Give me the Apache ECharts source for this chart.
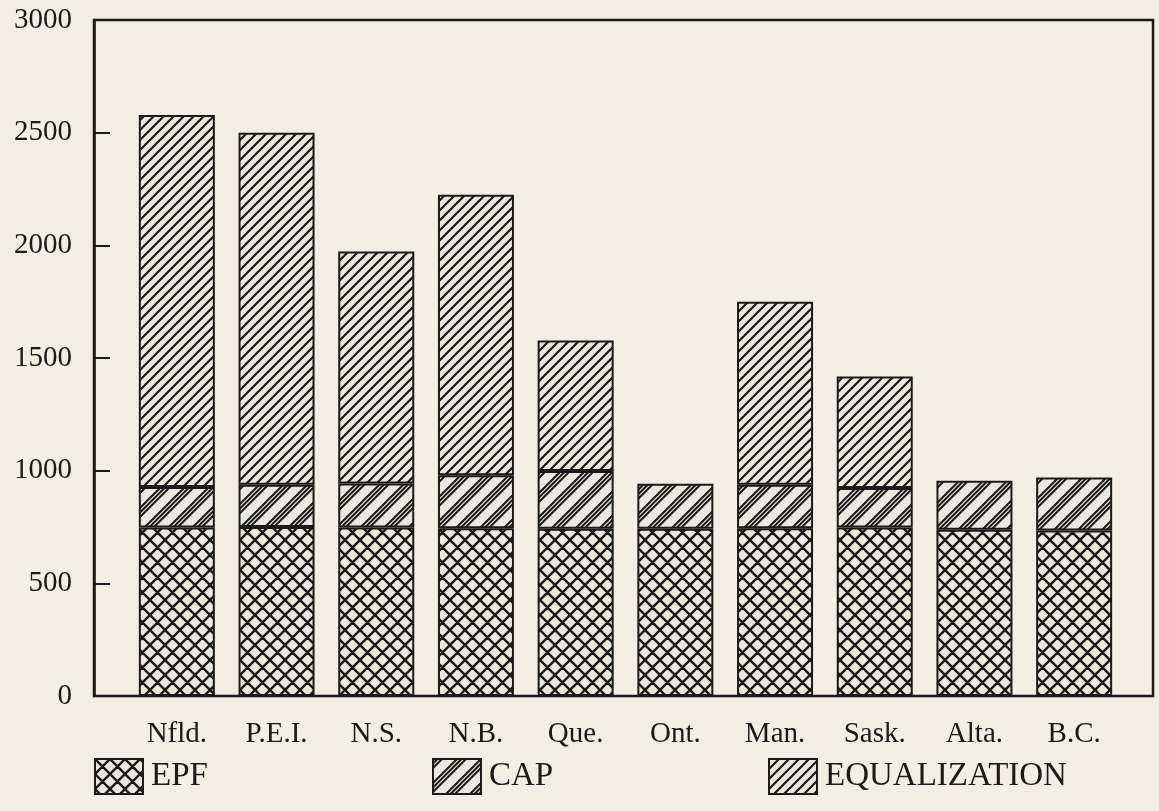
<!DOCTYPE html>
<html>
<head>
<meta charset="utf-8">
<script src="https://cdn.jsdelivr.net/npm/echarts@6/dist/echarts.min.js"></script>
<style>
  html, body { margin: 0; padding: 0; background: #f3eee4; }
  #chart { width: 1159px; height: 811px; }
</style>
</head>
<body>
<div id="chart"></div>
<script>
const provinces = ["Nfld.", "P.E.I.", "N.S.", "N.B.", "Que.", "Ont.", "Man.", "Sask.", "Alta.", "B.C."];
const epf = [748, 750, 748, 745, 742, 742, 745, 748, 738, 735];
const cap = [180, 187, 195, 235, 256, 200, 193, 175, 217, 235];
const equalization = [1650, 1563, 1030, 1245, 580, 0, 812, 495, 0, 0];
const yMin = 0;
const yMax = 3000;
const yStep = 500;

const ink = "#1a1a1a";
const paper = "#f3eee4";
const fillBg = "#ebe7de";
const serif = "Liberation Serif";

// square tile with 45 degree lines, "/" lines at given offsets, optional "\" too
function hatchTile(size, offsets, lineWidth, cross) {
  const c = document.createElement("canvas");
  c.width = size;
  c.height = size;
  const ctx = c.getContext("2d");
  ctx.fillStyle = fillBg;
  ctx.fillRect(0, 0, size, size);
  ctx.strokeStyle = ink;
  ctx.lineWidth = lineWidth;
  ctx.beginPath();
  for (const o of offsets) {
    for (let k = -1; k <= 2; k++) {
      const s = o + k * size;
      ctx.moveTo(-2, s + 2);
      ctx.lineTo(s + 2, -2);
      if (cross) {
        ctx.moveTo(-2, s - 2);
        ctx.lineTo(size + 2, s + size + 2);
      }
    }
  }
  ctx.stroke();
  return { image: c, repeat: "repeat" };
}

const epfFill = hatchTile(15, [0], 2.4, true);
const capFill = hatchTile(24, [0, 4.5, 9], 2, false);
const eqFill = hatchTile(10, [0], 2.2, false);

const chart = echarts.init(document.getElementById("chart"));

const barStyle = (fill) => ({
  color: fill,
  borderColor: ink,
  borderWidth: 2,
});

const legendBase = {
  top: 758,
  padding: 0,
  itemWidth: 48,
  itemHeight: 35,
  icon: "rect",
  selectedMode: false,
  itemStyle: { borderColor: ink, borderWidth: 2 },
  textStyle: { fontFamily: serif, fontSize: 33, color: ink, padding: [4, 0, 0, 3] },
};

const option = {
  backgroundColor: paper,
  animation: false,
  legend: [
    Object.assign({ left: 94, data: ["EPF"] }, legendBase),
    Object.assign({ left: 432, data: ["CAP"] }, legendBase),
    Object.assign({ left: 768, data: ["EQUALIZATION"] }, legendBase),
  ],
  grid: [
    {
      left: 94,
      right: 6,
      top: 20,
      bottom: 115,
      show: true,
      borderColor: ink,
      borderWidth: 2.5,
      backgroundColor: "transparent",
    },
    {
      left: 127,
      right: 35,
      top: 20,
      bottom: 115,
    },
  ],
  xAxis: [
    { gridIndex: 0, type: "value", min: 0, max: 1, show: false },
    {
      gridIndex: 1,
      type: "category",
      data: provinces,
      axisLine: { show: false },
      axisTick: { show: false },
      axisLabel: {
        fontFamily: serif,
        fontSize: 29,
        color: ink,
        margin: 24,
        interval: 0,
      },
    },
  ],
  yAxis: [
    {
      gridIndex: 0,
      type: "value",
      min: yMin,
      max: yMax,
      interval: yStep,
      axisLine: { show: true, lineStyle: { color: ink, width: 2.5 } },
      axisTick: { show: true, inside: true, length: 16, lineStyle: { color: ink, width: 2 } },
      axisLabel: {
        fontFamily: serif,
        fontSize: 29,
        color: ink,
        margin: 22,
        formatter: (v) => String(v),
      },
      splitLine: { show: false },
    },
    { gridIndex: 1, type: "value", min: yMin, max: yMax, show: false },
  ],
  series: [
    {
      name: "EPF",
      type: "bar",
      stack: "total",
      xAxisIndex: 1,
      yAxisIndex: 1,
      barWidth: 76,
      data: epf,
      itemStyle: barStyle(epfFill),
    },
    {
      name: "CAP",
      type: "bar",
      stack: "total",
      xAxisIndex: 1,
      yAxisIndex: 1,
      barWidth: 76,
      data: cap,
      itemStyle: barStyle(capFill),
    },
    {
      name: "EQUALIZATION",
      type: "bar",
      stack: "total",
      xAxisIndex: 1,
      yAxisIndex: 1,
      barWidth: 76,
      data: equalization.map((v) => (v === 0 ? "-" : v)),
      itemStyle: barStyle(eqFill),
    },
  ],
};

chart.setOption(option);
</script>
</body>
</html>
